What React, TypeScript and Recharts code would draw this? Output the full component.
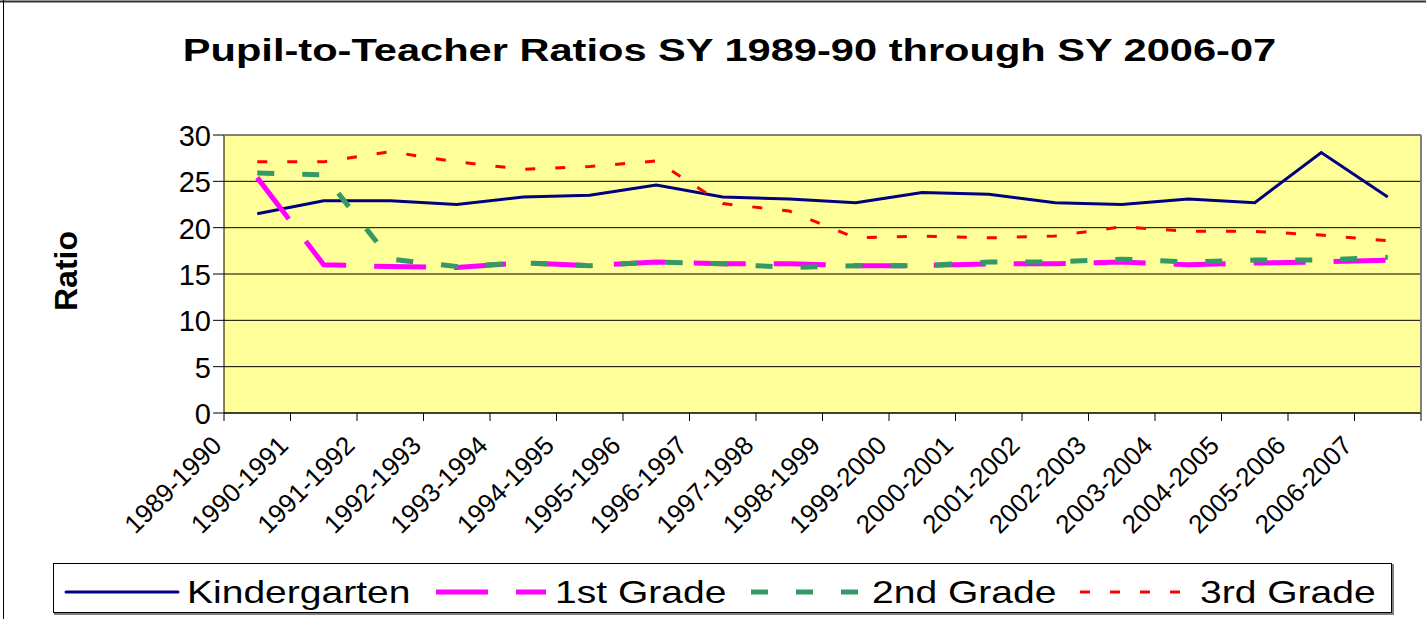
import React from "react";
import { LineChart, Line, XAxis, YAxis, CartesianGrid } from "recharts";

// school years on the category axis
const years = [
  "1989-1990", "1990-1991", "1991-1992", "1992-1993", "1993-1994", "1994-1995",
  "1995-1996", "1996-1997", "1997-1998", "1998-1999", "1999-2000", "2000-2001",
  "2001-2002", "2002-2003", "2003-2004", "2004-2005", "2005-2006", "2006-2007",
];

// pupil-to-teacher ratios
const kindergarten = [21.5, 22.9, 22.9, 22.5, 23.3, 23.5, 24.6, 23.3, 23.1, 22.7, 23.8, 23.6, 22.7, 22.5, 23.1, 22.7, 28.1, 23.3];
const firstGrade = [25.4, 16.0, 15.8, 15.7, 16.2, 15.9, 16.3, 16.1, 16.1, 15.9, 15.9, 16.1, 16.1, 16.3, 16.0, 16.2, 16.3, 16.5];
const secondGrade = [25.9, 25.7, 16.6, 15.8, 16.2, 15.9, 16.3, 16.1, 15.7, 15.9, 15.9, 16.3, 16.3, 16.6, 16.3, 16.5, 16.5, 16.8];
const thirdGrade = [27.1, 27.1, 28.2, 27.1, 26.3, 26.6, 27.2, 22.6, 21.8, 18.9, 19.1, 18.9, 19.1, 20.1, 19.6, 19.6, 19.2, 18.6];

const yTicks = [0, 5, 10, 15, 20, 25, 30];

const data = years.map((year, i) => ({
  year,
  kindergarten: kindergarten[i],
  first: firstGrade[i],
  second: secondGrade[i],
  third: thirdGrade[i],
}));

const series = [
  { key: "kindergarten", name: "Kindergarten", color: "#000080", width: 3, dash: undefined as string | undefined },
  { key: "first", name: "1st Grade", color: "#FF00FF", width: 5, dash: "52 28" },
  { key: "second", name: "2nd Grade", color: "#339966", width: 5, dash: "17 28" },
  { key: "third", name: "3rd Grade", color: "#FF0000", width: 3, dash: "10 20" },
];

// legend sample line start/end and label x, page coordinates
const legendLayout = [
  { x1: 66, x2: 178, textX: 187 },
  { x1: 436, x2: 546, textX: 555 },
  { x1: 751, x2: 860, textX: 872 },
  { x1: 1080, x2: 1181, textX: 1200 },
];

const W = 1426;
const H = 619;
const PLOT_LEFT = 224;
const PLOT_TOP = 135;
const PLOT_RIGHT = 1421;
const PLOT_BOTTOM = 413;
const Y_AXIS_W = 60;
const X_AXIS_H = 40;
const BAND = (PLOT_RIGHT - PLOT_LEFT) / years.length;
const FONT = "'Liberation Sans', Arial, sans-serif";

function YTick({ x, y, payload }: any) {
  return (
    <text x={x} y={y + 11} textAnchor="end" fontSize={29} fontFamily={FONT} fill="#000">
      {payload.value}
    </text>
  );
}

function XTick({ x, y, payload, index }: any) {
  const isLast = index === years.length - 1;
  return (
    <g>
      <line x1={x - BAND / 2} y1={y} x2={x - BAND / 2} y2={y + 8} stroke="#000" />
      {isLast && <line x1={x + BAND / 2} y1={y} x2={x + BAND / 2} y2={y + 8} stroke="#000" />}
      <text
        transform={`translate(${x - 34},${y + 34}) rotate(-45)`}
        textAnchor="end"
        fontSize={26}
        fontFamily={FONT}
        fill="#000"
      >
        {payload.value}
      </text>
    </g>
  );
}

function ChartLegend() {
  return (
    <svg width={W} height={H} style={{ position: "absolute", left: 0, top: 0, pointerEvents: "none" }}>
      <rect x={53.5} y={563.5} width={1338} height={49} fill="#fff" stroke="#000" strokeWidth={1} />
      <line x1={54} y1={614} x2={1393} y2={614} stroke="#808080" strokeWidth={2} />
      <line x1={1393} y1={564} x2={1393} y2={615} stroke="#808080" strokeWidth={2} />
      {series.map((s, i) => (
        <g key={s.key}>
          <line
            x1={legendLayout[i].x1}
            y1={592}
            x2={legendLayout[i].x2}
            y2={592}
            stroke={s.color}
            strokeWidth={s.width}
            strokeDasharray={s.dash}
            strokeLinecap={s.dash ? "butt" : "round"}
          />
          <text
            transform={`translate(${legendLayout[i].textX},603) scale(1.22,1)`}
            fontSize={32}
            fontFamily={FONT}
            fill="#000"
          >
            {s.name}
          </text>
        </g>
      ))}
    </svg>
  );
}

function Titles() {
  return (
    <svg width={W} height={H} style={{ position: "absolute", left: 0, top: 0, pointerEvents: "none" }}>
      <text
        transform="translate(729.5,61) scale(1.3,1)"
        textAnchor="middle"
        fontSize={32}
        fontWeight="bold"
        fontFamily={FONT}
        fill="#000"
      >
        Pupil-to-Teacher Ratios SY 1989-90 through SY 2006-07
      </text>
      <text
        transform="translate(77,271) rotate(-90)"
        textAnchor="middle"
        fontSize={32}
        fontWeight="bold"
        fontFamily={FONT}
        fill="#000"
      >
        Ratio
      </text>
      {/* plot frame on top and right */}
      <line x1={PLOT_LEFT} y1={PLOT_TOP} x2={PLOT_RIGHT} y2={PLOT_TOP} stroke="#808080" strokeWidth={2} />
      <line x1={PLOT_RIGHT} y1={PLOT_TOP} x2={PLOT_RIGHT} y2={PLOT_BOTTOM} stroke="#808080" strokeWidth={2} />
      {/* chart area border */}
      <line x1={0} y1={1.5} x2={W} y2={1.5} stroke="#333" strokeWidth={2} />
      <line x1={3.5} y1={0} x2={3.5} y2={H} stroke="#000" strokeWidth={1} />
    </svg>
  );
}

export default function App() {
  return (
    <div style={{ position: "absolute", left: 0, top: 0, width: W, height: H, background: "#fff" }}>
      <LineChart
        width={W}
        height={H}
        data={data}
        margin={{
          top: PLOT_TOP,
          right: W - PLOT_RIGHT,
          bottom: H - PLOT_BOTTOM - X_AXIS_H,
          left: PLOT_LEFT - Y_AXIS_W,
        }}
      >
        <CartesianGrid horizontal vertical={false} fill="#FFFF99" stroke="#000" strokeOpacity={1} />
        <XAxis
          dataKey="year"
          height={X_AXIS_H}
          interval={0}
          padding={{ left: BAND / 2, right: BAND / 2 }}
          tickLine={false}
          tickSize={0}
          tickMargin={0}
          axisLine={{ stroke: "#000" }}
          tick={<XTick />}
        />
        <YAxis
          width={Y_AXIS_W}
          domain={[0, 30]}
          ticks={yTicks}
          interval={0}
          tickSize={11}
          tickMargin={2}
          tickLine={{ stroke: "#000" }}
          axisLine={{ stroke: "#000" }}
          tick={<YTick />}
        />
        {series.map((s) => (
          <Line
            key={s.key}
            type="linear"
            dataKey={s.key}
            name={s.name}
            stroke={s.color}
            strokeWidth={s.width}
            strokeDasharray={s.dash}
            dot={false}
            activeDot={false}
            isAnimationActive={false}
          />
        ))}
      </LineChart>
      <Titles />
      <ChartLegend />
    </div>
  );
}
